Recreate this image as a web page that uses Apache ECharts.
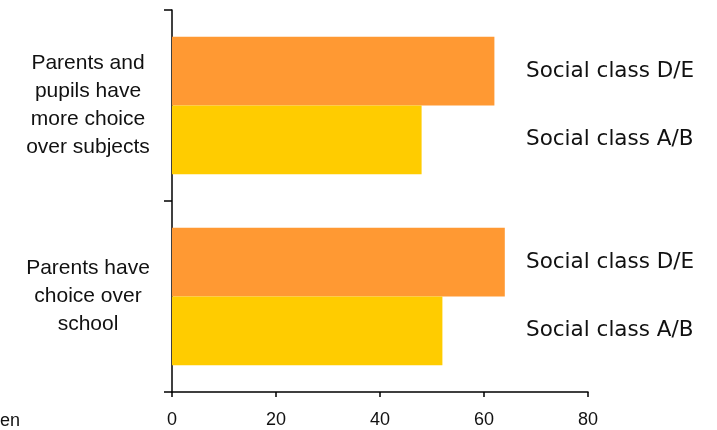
<!DOCTYPE html>
<html>
<head>
<meta charset="utf-8">
<script src="https://cdn.jsdelivr.net/npm/echarts@6/dist/echarts.min.js"></script>
<style>
  html, body { margin: 0; padding: 0; background: #fff; }
  #chart { width: 717px; height: 430px; }
</style>
</head>
<body>
<div id="chart"></div>
<script>
// categories, bottom to top
const categories = [
  'Parents have\nchoice over\nschool',
  'Parents and\npupils have\nmore choice\nover subjects'
];
// first series is drawn on top inside each band
const seriesNames = ['Social class D/E', 'Social class A/B'];
const classDE = [64, 62];
const classAB = [52, 48];
const xMin = 0, xMax = 80, xStep = 20;

const colors = ['#FF9933', '#FFCC00'];

// name labels sit in a column right of the plot
const nameLabel = {
  show: true,
  position: 'right',
  formatter: '{a}',
  fontFamily: '"DejaVu Sans", Verdana, sans-serif',
  fontSize: 21.5,
  color: '#111'
};
const nameLayout = { x: 526, align: 'left', verticalAlign: 'middle' };

const chart = echarts.init(document.getElementById('chart'));
chart.setOption({
  animation: false,
  grid: { left: 172, right: 129, top: 10, bottom: 38, containLabel: false },
  xAxis: {
    type: 'value',
    min: xMin, max: xMax, interval: xStep,
    splitLine: { show: false },
    axisLine: { show: true, lineStyle: { color: '#000', width: 1.5 } },
    axisTick: { show: true, length: 5, lineStyle: { color: '#000', width: 1.5 } },
    axisLabel: {
      margin: 19,
      fontFamily: '"Liberation Sans", Arial, sans-serif',
      fontSize: 18,
      color: '#111'
    }
  },
  yAxis: {
    type: 'category',
    data: categories,
    axisLine: { show: true, lineStyle: { color: '#000', width: 1.5 } },
    axisTick: { show: true, length: 8, lineStyle: { color: '#000', width: 1.5 } },
    axisLabel: {
      margin: 84,
      align: 'center',
      fontFamily: '"Liberation Sans", Arial, sans-serif',
      fontSize: 21,
      lineHeight: 28,
      color: '#111'
    }
  },
  series: [
    {
      name: seriesNames[0],
      type: 'bar',
      data: classDE,
      barCategoryGap: '28%',
      barGap: 0,
      itemStyle: { color: colors[0] },
      label: nameLabel,
      labelLayout: nameLayout
    },
    {
      name: seriesNames[1],
      type: 'bar',
      data: classAB,
      barCategoryGap: '28%',
      barGap: 0,
      itemStyle: { color: colors[1] },
      label: nameLabel,
      labelLayout: nameLayout
    }
  ],
  graphic: [
    {
      type: 'text',
      left: 0,
      top: 412,
      style: {
        text: 'en',
        fontFamily: '"Liberation Sans", Arial, sans-serif',
        fontSize: 18,
        fill: '#111'
      }
    }
  ]
});
</script>
</body>
</html>
